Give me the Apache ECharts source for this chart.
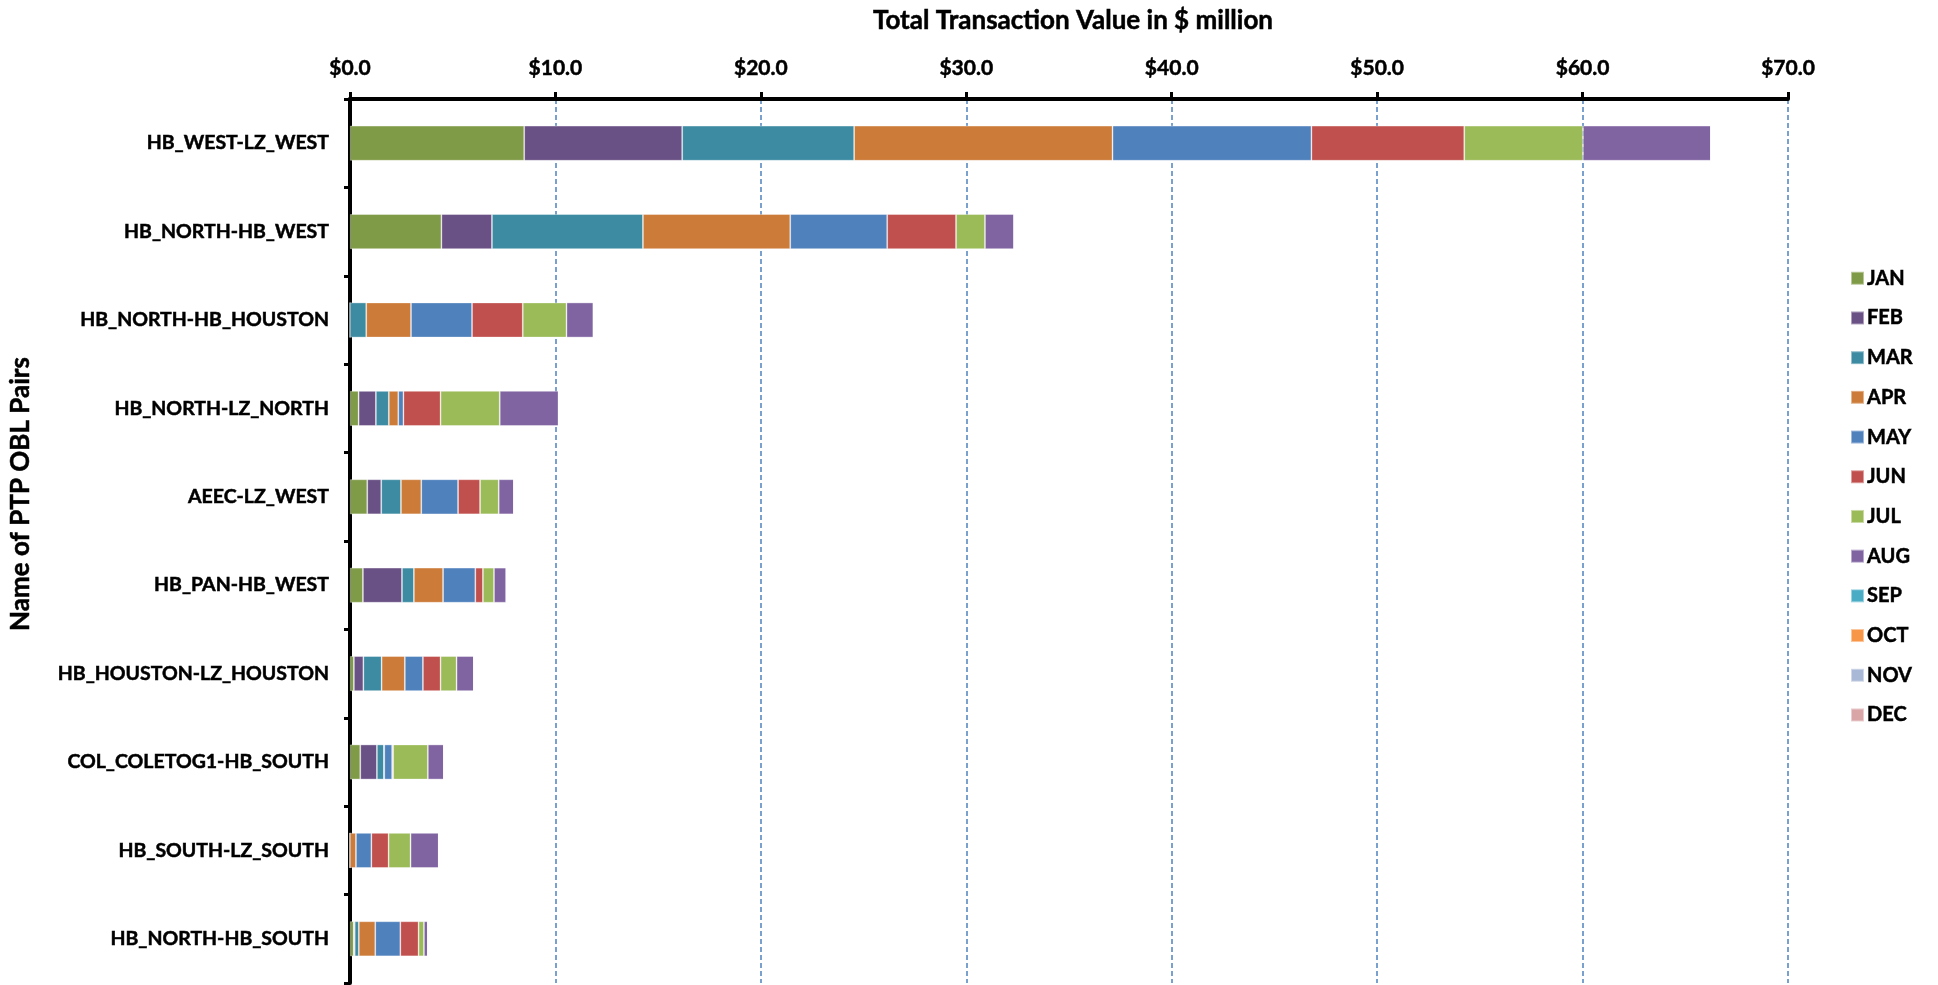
<!DOCTYPE html>
<html>
<head>
<meta charset="utf-8">
<title>PTP OBL Pairs</title>
<script src="https://cdn.jsdelivr.net/npm/echarts@6/dist/echarts.min.js"></script>
<style>
  html, body { margin: 0; padding: 0; background: #fff; }
  #chart { width: 1938px; height: 985px; }
</style>
</head>
<body>
<div id="chart"></div>
<script>
// 数据：每个 PTP OBL 对的月度交易额（$ million）
const categories = ['HB_WEST-LZ_WEST', 'HB_NORTH-HB_WEST', 'HB_NORTH-HB_HOUSTON', 'HB_NORTH-LZ_NORTH', 'AEEC-LZ_WEST',
  'HB_PAN-HB_WEST', 'HB_HOUSTON-LZ_HOUSTON', 'COL_COLETOG1-HB_SOUTH', 'HB_SOUTH-LZ_SOUTH', 'HB_NORTH-HB_SOUTH']
const months = ['JAN', 'FEB', 'MAR', 'APR', 'MAY', 'JUN', 'JUL', 'AUG', 'SEP', 'OCT', 'NOV', 'DEC']
const jan = [8.48, 4.45, 0, 0.42, 0.84, 0.63, 0.19, 0.50, 0, 0.18]
const feb = [7.69, 2.46, 0, 0.84, 0.68, 1.90, 0.46, 0.81, 0, 0.05]
const mar = [8.37, 7.35, 0.79, 0.63, 0.96, 0.58, 0.89, 0.34, 0, 0.20]
const apr = [12.58, 7.17, 2.18, 0.46, 0.99, 1.42, 1.13, 0.02, 0.29, 0.80]
const may = [9.68, 4.72, 2.97, 0.25, 1.79, 1.57, 0.88, 0.38, 0.75, 1.22]
const jun = [7.44, 3.35, 2.47, 1.81, 1.07, 0.37, 0.86, 0.05, 0.84, 0.89]
const jul = [5.78, 1.41, 2.13, 2.88, 0.91, 0.54, 0.78, 1.69, 1.07, 0.26]
const aug = [6.23, 1.42, 1.31, 2.86, 0.74, 0.60, 0.84, 0.78, 1.37, 0.19]
const sep = [0, 0, 0, 0, 0, 0, 0, 0, 0, 0]
const oct = [0, 0, 0, 0, 0, 0, 0, 0, 0, 0]
const nov = [0, 0, 0, 0, 0, 0, 0, 0, 0, 0]
const dec = [0, 0, 0, 0, 0, 0, 0, 0, 0, 0]
const xTicks = [0, 10, 20, 30, 40, 50, 60, 70]

const monthData = [jan, feb, mar, apr, may, jun, jul, aug, sep, oct, nov, dec]
const colors = ['#809B48', '#6A5185', '#3D8BA2', '#CC7B38', '#4F81BD', '#C0504D',
  '#9BBB59', '#8064A2', '#4BACC6', '#F79646', '#A9B8D6', '#D9A5A7']
const font = 'Lato, "Open Sans", sans-serif'
// 文字略加描边，模拟原图较粗的字重
const heavy = { textBorderColor: '#000', textBorderWidth: 0.5 }

const myChart = echarts.init(document.getElementById('chart'))
myChart.setOption({
  animation: false,
  color: colors,
  title: {
    text: 'Total Transaction Value in $ million',
    left: 1068,
    top: 3,
    textAlign: 'center',
    textStyle: Object.assign({ fontFamily: font, fontWeight: 'bold', fontSize: 26, color: '#000' }, heavy)
  },
  graphic: [{
    type: 'text',
    x: 21,
    y: 494,
    rotation: Math.PI / 2,
    style: {
      text: 'Name of PTP OBL Pairs',
      fontFamily: font,
      fontWeight: 'bold',
      fontSize: 26,
      fill: '#000',
      align: 'center',
      verticalAlign: 'middle',
      stroke: '#000',
      lineWidth: 0.5
    }
  }],
  legend: {
    data: months,
    orient: 'vertical',
    left: 1845,
    top: 263,
    icon: 'rect',
    itemWidth: 13,
    itemHeight: 13,
    itemGap: 19.2,
    textStyle: Object.assign({ fontFamily: font, fontWeight: 'bold', fontSize: 20, color: '#000', lineHeight: 20, padding: [0, 0, 0, -2] }, heavy)
  },
  grid: {
    left: 350,
    right: 150,
    top: 99,
    bottom: 2
  },
  xAxis: {
    type: 'value',
    position: 'top',
    min: xTicks[0],
    max: xTicks[xTicks.length - 1],
    interval: 10,
    axisLine: { show: true, lineStyle: { color: '#000', width: 4 } },
    axisTick: { show: true, inside: false, length: 7, lineStyle: { color: '#000', width: 3 } },
    axisLabel: Object.assign({
      margin: 20,
      fontFamily: font,
      fontWeight: 'bold',
      fontSize: 21,
      color: '#000',
      formatter: v => '$' + v.toFixed(1)
    }, heavy),
    splitLine: {
      show: true,
      lineStyle: { color: '#4F81BD', width: 1.5, type: [5, 3] }
    }
  },
  yAxis: {
    type: 'category',
    inverse: true,
    data: categories,
    axisLine: { show: true, lineStyle: { color: '#000', width: 4 } },
    axisTick: { show: true, length: 6, lineStyle: { color: '#000', width: 3 } },
    axisLabel: Object.assign({
      margin: 21,
      fontFamily: font,
      fontWeight: 'bold',
      fontSize: 19.5,
      color: '#000'
    }, heavy)
  },
  series: months.map((m, i) => ({
    name: m,
    type: 'bar',
    stack: 'total',
    barWidth: 35,
    data: monthData[i],
    itemStyle: { borderColor: 'rgba(255,255,255,0.45)', borderWidth: 0.8 }
  }))
})
</script>
</body>
</html>
